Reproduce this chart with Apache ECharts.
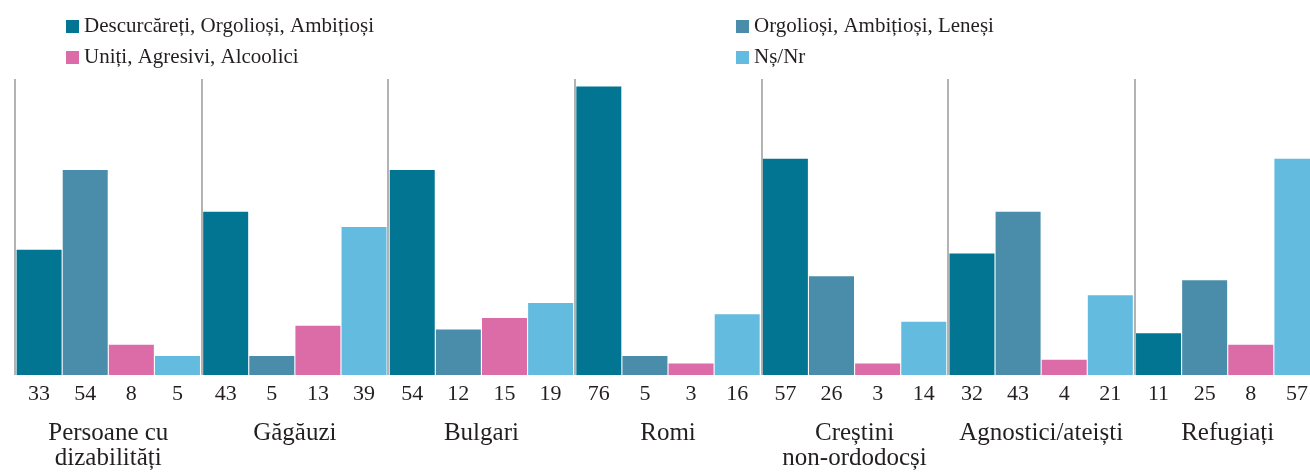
<!DOCTYPE html>
<html>
<head>
<meta charset="utf-8">
<script src="https://cdn.jsdelivr.net/npm/echarts@6/dist/echarts.min.js"></script>
<style>
    html, body {margin: 0; padding: 0; background: #fff;}
    #main {width: 1310px; height: 474px;}
</style>
</head>
<body>
<div id="main"></div>
<script>
const FONT = '"Liberation Serif", "DejaVu Serif", serif';

const categories = ['Persoane cu\ndizabilități', 'Găgăuzi', 'Bulgari', 'Romi', 'Creștini\nnon-ordodocși', 'Agnostici/ateiști', 'Refugiați'];
const seriesNames = ['Descurcăreți, Orgolioși, Ambițioși', 'Orgolioși, Ambițioși, Leneși', 'Uniți, Agresivi, Alcoolici', 'Nș/Nr'];
const colors = ['#027592', '#4a8daa', '#dc6ca8', '#63bbe0'];

const descurcareti = [33, 43, 54, 76, 57, 32, 11];
const orgoliosi = [54, 5, 12, 5, 26, 43, 25];
const uniti = [8, 13, 15, 3, 3, 4, 8];
const nsnr = [5, 39, 19, 16, 14, 21, 57];

const values = [descurcareti, orgoliosi, uniti, nsnr];

let myChart = echarts.init(document.getElementById('main'));

let series = [];
for (let i = 0; i < values.length; i++) {
    series.push({
        name: seriesNames[i],
        type: 'bar',
        data: values[i],
        barWidth: 45,
        barGap: '2.5%',
        itemStyle: {color: colors[i]},
        label: {
            show: true,
            position: 'bottom',
            distance: 8,
            color: '#231f20',
            fontFamily: FONT,
            fontSize: 22
        }
    });
}

function legendItem(left, data) {
    return {
        left: left,
        top: 9,
        orient: 'vertical',
        data: data,
        icon: 'rect',
        itemWidth: 13,
        itemHeight: 13,
        itemGap: 6,
        selectedMode: false,
        textStyle: {
            color: '#231f20',
            fontFamily: FONT,
            fontSize: 21,
            lineHeight: 25,
            padding: [0, 0, 0, 0]
        }
    };
}

let option = {
    animation: false,
    legend: [
        legendItem(61, [seriesNames[0], seriesNames[2]]),
        legendItem(731, [seriesNames[1], seriesNames[3]])
    ],
    grid: {
        left: 15,
        top: 79,
        width: 1306,
        bottom: 99,
        outerBoundsMode: 'none'
    },
    xAxis: {
        type: 'category',
        data: categories,
        axisLine: {show: false},
        axisTick: {show: false},
        splitLine: {
            show: true,
            lineStyle: {color: '#9a9a9a', width: 1.5}
        },
        axisLabel: {
            margin: 46,
            color: '#231f20',
            fontFamily: FONT,
            fontSize: 25,
            lineHeight: 25,
            interval: 0
        }
    },
    yAxis: {
        type: 'value',
        min: 0,
        max: 78,
        show: false,
        splitLine: {show: false}
    },
    series: series
};

myChart.setOption(option, true);
</script>
</body>
</html>
